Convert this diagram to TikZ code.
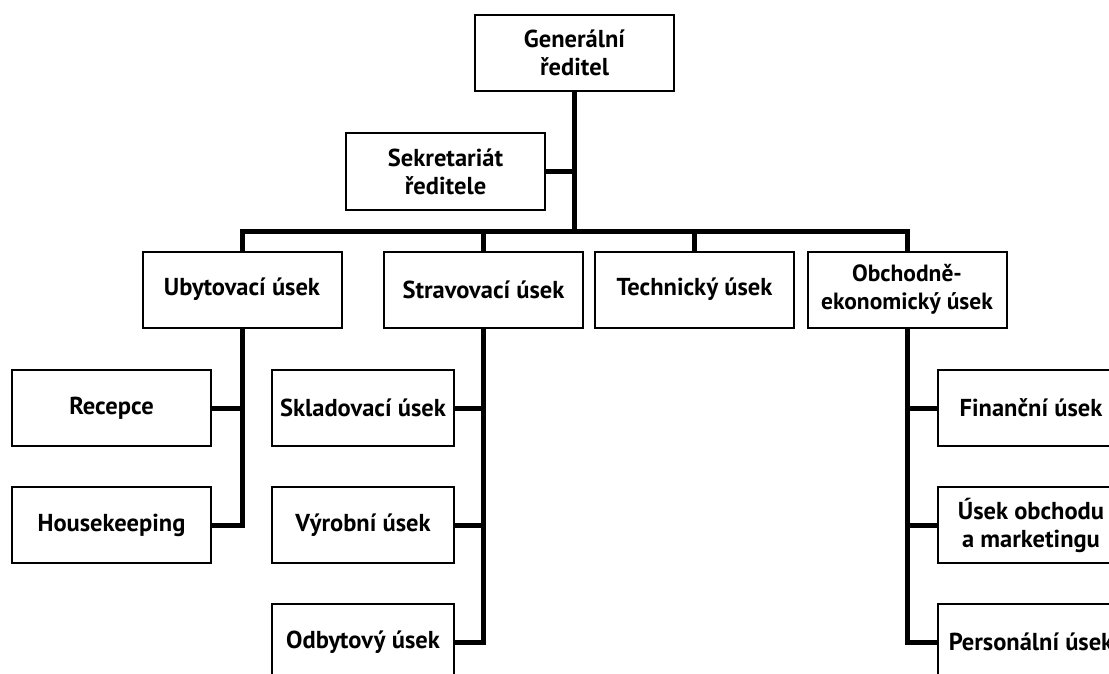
\documentclass[tikz,border=0pt]{standalone}
\usepackage{fontspec}
\setmainfont{PT Sans}
\usetikzlibrary{positioning}

\tikzset{
  unitbox/.style={draw, line width=2pt, fill=white, minimum width=199pt, minimum height=76pt,
    inner sep=0pt, align=center, font=\fontsize{24.5}{28}\selectfont\bfseries},
  link/.style={line width=5pt}
}

\begin{document}
\begin{tikzpicture}[x=1pt, y=-1pt]
  \useasboundingbox (0,0) rectangle (1109,674);
  \clip (0,0) rectangle (1109,674);

  % top level
  \node[unitbox] (gr) at (574.5,53) {Generální\\ředitel};
  \node[unitbox] (sek) at (445.5,171.5) {Sekretariát\\ředitele};
  \coordinate (bus) at (574.5,231);

  % departments
  \node[unitbox] (ubyt) at (242,289.5) {Ubytovací úsek};
  \node[unitbox] (strav) at (483.5,289.5) {Stravovací úsek};
  \node[unitbox] (tech) at (694.5,289.5) {Technický úsek};
  \node[unitbox, font=\fontsize{23.5}{28}\selectfont\bfseries] (obch) at (907,289.5) {Obchodně-\\ekonomický úsek};

  % sub-units
  \node[unitbox] (rec) at (111.5,408) {Recepce};
  \node[unitbox] (hk) at (111.5,525) {Housekeeping};
  \node[unitbox, minimum width=182pt] (skl) at (363,408) {Skladovací úsek};
  \node[unitbox, minimum width=182pt] (vyr) at (363,525) {Výrobní úsek};
  \node[unitbox, minimum width=182pt] (odb) at (363,642) {Odbytový úsek};
  \node[unitbox, minimum width=186pt] (fin) at (1031,408) {Finanční úsek};
  \node[unitbox, minimum width=186pt] (uo) at (1031,525) {Úsek obchodu\\a marketingu};
  \node[unitbox, minimum width=186pt] (pers) at (1031,642) {Personální úsek};

  % connectors
  \draw[link] (gr.south) -- (bus);
  \draw[link] (sek.east) -- (sek.east -| bus);
  \draw[link] (ubyt.north) |- (bus) -| (obch.north);
  \draw[link] (strav.north) -- (strav.north |- bus);
  \draw[link] (tech.north) -- (tech.north |- bus);

  \draw[link] (ubyt.south) |- (hk.east);
  \draw[link] (rec.east) -- (rec.east -| ubyt.south);
  \draw[link] (strav.south) |- (odb.east);
  \draw[link] (skl.east) -- (skl.east -| strav.south);
  \draw[link] (vyr.east) -- (vyr.east -| strav.south);
  \draw[link] (obch.south) |- (pers.west);
  \draw[link] (fin.west) -- (fin.west -| obch.south);
  \draw[link] (uo.west) -- (uo.west -| obch.south);
\end{tikzpicture}
\end{document}
